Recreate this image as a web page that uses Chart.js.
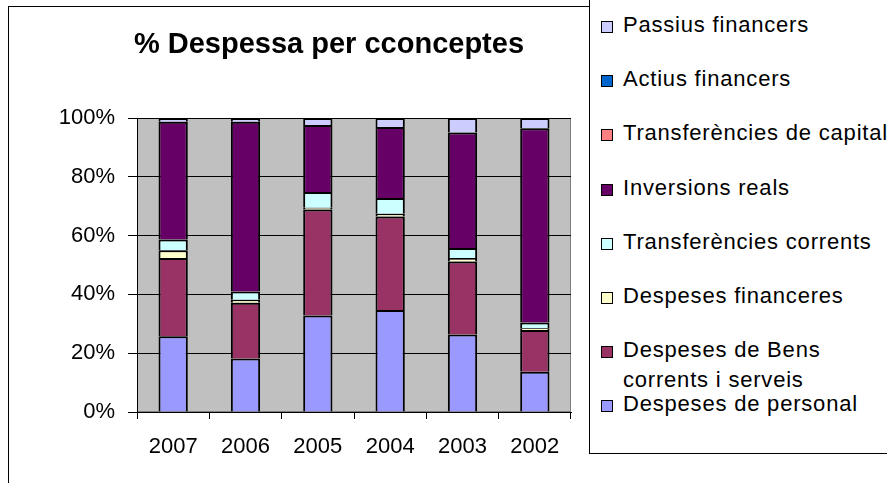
<!DOCTYPE html>
<html>
<head>
<meta charset="utf-8">
<script src="https://cdn.jsdelivr.net/npm/chart.js@4"></script>
<style>
  html, body { margin: 0; padding: 0; background: #fff; }
  #wrap { position: relative; width: 887px; height: 483px; overflow: hidden; font-family: 'Liberation Sans', Arial, sans-serif; }
  #frame { position: absolute; left: 8px; top: 6px; width: 2000px; height: 2000px; border: 1px solid #000; }
  #chart { position: absolute; left: 0; top: 0; }
  #title { position: absolute; left: 0; top: 26px; width: 658px; text-align: center; font-size: 29px; line-height: 35px; font-weight: bold; color: #000; white-space: nowrap; }
  #legend { position: absolute; left: 589px; top: -1px; width: 400px; height: 453px; border: 1px solid #000; background: #fff; }
  .item { position: absolute; left: 11px; height: 30px; font-size: 22px; line-height: 30px; letter-spacing: 0.8px; white-space: pre; color: #000; }
  .item .box { position: absolute; left: 0; top: 11px; width: 10px; height: 10px; border: 1px solid #000; }
  .item .txt { position: absolute; left: 22px; top: 0; }
</style>
</head>
<body>
<div id="wrap">
  <div id="frame"></div>
  <canvas id="chart" width="887" height="483"></canvas>
  <div id="title">% Despessa per cconceptes</div>
  <div id="legend"></div>
</div>
<script>
// years on the x axis
const years = ['2007', '2006', '2005', '2004', '2003', '2002'];

// share of spending (%) per concept, bottom of the stack first
const personal = [25.8, 18.2, 32.8, 34.7, 26.4, 13.7];
const bensServeis = [26.6, 19.0, 36.1, 31.8, 24.8, 14.2];
const financeres = [2.6, 1.0, 0.6, 0.9, 1.2, 0.6];
const transfCorrents = [3.7, 2.8, 5.3, 5.4, 3.4, 1.9];
const inversions = [40.0, 57.7, 22.8, 24.1, 39.3, 66.1];
const transfCapital = [0, 0, 0, 0, 0, 0];
const actius = [0, 0, 0, 0, 0, 0];
const passius = [1.3, 1.3, 2.4, 3.1, 4.9, 3.5];

const seriesNames = [
  'Despeses de personal',
  'Despeses de Bens\ncorrents i serveis',
  'Despeses financeres',
  'Transferències corrents',
  'Inversions reals',
  'Transferències de capital',
  'Actius financers',
  'Passius financers'
];
const seriesValues = [personal, bensServeis, financeres, transfCorrents, inversions, transfCapital, actius, passius];
const seriesColors = ['#9999FF', '#993366', '#FFFFCC', '#CCFFFF', '#660066', '#FF8080', '#0066CC', '#CCCCFF'];

const yTicks = [0, 20, 40, 60, 80, 100];

const FONT = "'Liberation Sans', Arial, sans-serif";

// grey plot area like the old spreadsheet default
const plotBg = {
  id: 'plotBg',
  beforeDraw(chart) {
    const { ctx, chartArea: a } = chart;
    ctx.save();
    ctx.fillStyle = '#C0C0C0';
    ctx.fillRect(a.left, a.top, a.right - a.left, a.bottom - a.top);
    ctx.strokeStyle = '#808080';
    ctx.lineWidth = 1;
    ctx.strokeRect(a.left + 0.5, a.top + 0.5, a.right - a.left - 1, a.bottom - a.top - 1);
    ctx.restore();
  }
};

const chart = new Chart(document.getElementById('chart').getContext('2d'), {
  type: 'bar',
  data: {
    labels: years,
    datasets: seriesNames.map((name, i) => ({
      label: name,
      data: seriesValues[i],
      backgroundColor: seriesColors[i],
      borderColor: '#000',
      borderWidth: 2,
      barPercentage: 0.405,
      categoryPercentage: 1
    }))
  },
  options: {
    responsive: false,
    animation: false,
    layout: { padding: { left: 8, right: 316, top: 118, bottom: 0 } },
    plugins: {
      legend: { display: false },
      tooltip: { enabled: false },
      title: { display: false }
    },
    scales: {
      x: {
        stacked: true,
        grid: { drawOnChartArea: false, color: '#000', tickLength: 7 },
        border: { color: '#000' },
        ticks: { color: '#000', font: { family: FONT, size: 22 }, padding: 15 },
        afterFit(s) { s.height = 71; }
      },
      y: {
        stacked: true,
        min: 0,
        max: 100,
        grid: { color: '#000', tickLength: 9 },
        border: { color: '#000' },
        afterBuildTicks(s) { s.ticks = yTicks.map(v => ({ value: v })); },
        ticks: {
          color: '#000',
          font: { family: FONT, size: 22 },
          padding: 13,
          callback: v => v + '%'
        },
        afterFit(s) { s.width = 129; }
      }
    }
  },
  plugins: [plotBg]
});

// legend: top item is the last series, like the original
const legend = document.getElementById('legend');
chart.data.datasets.slice().reverse().forEach((ds, i) => {
  const item = document.createElement('div');
  item.className = 'item';
  item.style.top = (10 + 54.2 * i) + 'px';
  const box = document.createElement('span');
  box.className = 'box';
  box.style.background = ds.backgroundColor;
  const txt = document.createElement('span');
  txt.className = 'txt';
  txt.textContent = ds.label;
  item.appendChild(box);
  item.appendChild(txt);
  legend.appendChild(item);
});
</script>
</body>
</html>
